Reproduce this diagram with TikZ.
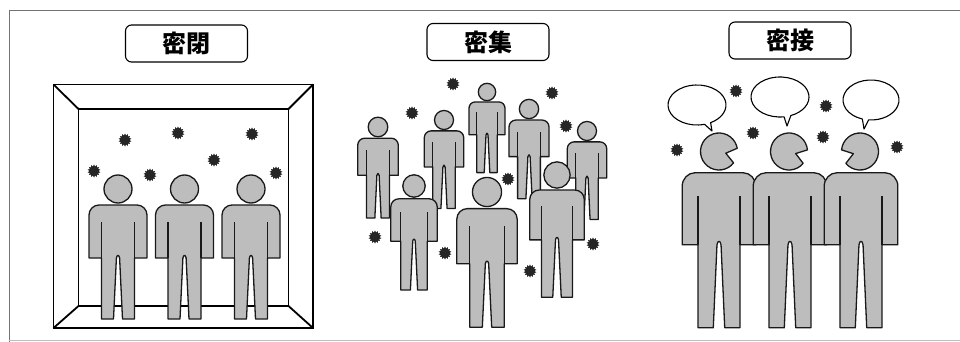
\documentclass[tikz,border=0pt]{standalone}
\usepackage{fontspec}
\newfontfamily\jpfont{Noto Sans CJK JP}
\usetikzlibrary{shapes.geometric,calc}
% torso, arms and legs of a standing figure; origin at the head centre
\newcommand\figurebodydraw{%
  \path[figfill] (-16.5,130) -- (-16.5,69) -- (-29,69) -- (-29,26)
    .. controls (-29,20.5) and (-24.5,16) .. (-19,16) -- (19,16)
    .. controls (24.5,16) and (29,20.5) .. (29,26) -- (29,69) -- (16.5,69)
    -- (16.5,130) -- (4.5,130) -- (1.6,69) .. controls (1,65.5) and (-1,65.5) .. (-1.6,69)
    -- (-4.5,130) -- cycle;
  \draw[figline] (-16.5,33) -- (-16.5,69) (16.5,33) -- (16.5,69);%
}
\begin{document}
\begin{tikzpicture}[x=1pt,y=-1pt,
  figfill/.style={fill=black!26, draw=black!90, line width=1.3pt, line join=round},
  figline/.style={draw=black!90, line width=1.3pt},
  virus/.style={star, star points=14, star point ratio=1.4, minimum size=13pt, inner sep=0pt, fill=black!85},
  titlebox/.style={draw, line width=1.1pt, rounded corners=6pt, minimum width=122pt,
    minimum height=37pt, inner sep=0pt, font=\jpfont\bfseries\fontsize{24}{24}\selectfont},
  roomline/.style={line width=1.8pt, line join=miter},
  bubble/.style={fill=white, draw=black, line width=1.1pt, line join=round},
  framecol/.style={draw=black!55, line width=1pt},
  figbody/.pic={\figurebodydraw},
  % complete figure with a round head
  figperson/.pic={
    \figurebodydraw
    \path[figfill] (0,0) circle[radius=14];
  }
]
\useasboundingbox (0,0) rectangle (960,342);

% outer frame
\draw[framecol] (960,11) -- (9,11) -- (9,342);
\draw[draw=black!25, line width=0.8pt] (9,340.5) -- (960,340.5);

% titles
\node[titlebox] (t1) at (186.5,43.5) {密閉};
\node[titlebox] (t2) at (488,42) {密集};
\node[titlebox] (t3) at (790,40.5) {密接};

% ---------- closed room ----------
\coordinate (o1) at (53.5,84.5);
\coordinate (o2) at (313,84.5);
\coordinate (o3) at (313,328);
\coordinate (o4) at (53.5,328);
\coordinate (i1) at (78.5,109);
\coordinate (i2) at (288.5,109);
\coordinate (i3) at (288.5,306);
\coordinate (i4) at (78.5,306);
\draw[roomline] (o1) -- (o2) -- (o3) -- (o4) -- cycle;
\draw[roomline] (i1) -- (i2) -- (i3) -- (i4) -- cycle;
\draw[roomline] (o1) -- (i1) (o2) -- (i2) (o3) -- (i3) (o4) -- (i4);

\node[virus] (r1) at (125,140) {};
\node[virus] (r2) at (178,133) {};
\node[virus] (r3) at (252,134) {};
\node[virus] (r4) at (214,160) {};
\node[virus] (r5) at (94,171) {};
\node[virus] (r6) at (150,175) {};
\node[virus] (r7) at (276,173) {};

\pic at (118,189) {figperson};
\pic at (184.5,189) {figperson};
\pic at (251,189) {figperson};

% ---------- crowd ----------
\node[virus] (c1) at (453,84) {};
\node[virus] (c2) at (412,113) {};
\node[virus] (c3) at (552,93) {};
\node[virus] (c4) at (566,126) {};
\node[virus] (c5) at (508,179) {};
\node[virus] (c6) at (375,237) {};
\node[virus] (c7) at (445,253) {};
\node[virus] (c8) at (530,271) {};
\node[virus] (c9) at (593,244) {};

\pic[scale=0.62] at (487,92) {figperson};
\pic[scale=0.69] at (529,109) {figperson};
\pic[scale=0.70] at (378,127) {figperson};
\pic[scale=0.68] at (444,120) {figperson};
\pic[scale=0.68] at (587,131) {figperson};
\pic[scale=0.80] at (414,186) {figperson};
\pic[scale=0.94] at (557,175) {figperson};
\pic[scale=1.04] at (487,192) {figperson};

% ---------- close contact ----------
\coordinate (b1) at (697,105);
\coordinate (b2) at (780,97);
\coordinate (b3) at (871,100);
\coordinate (k1) at (712,131);
\coordinate (k2) at (787,126);
\coordinate (k3) at (864,129);
\path[bubble] ($(b1)+(75:29 and 20)$) arc[start angle=75, end angle=422, x radius=29, y radius=20] -- (k1) -- cycle;
\path[bubble] ($(b2)+(82:29 and 20)$) arc[start angle=82, end angle=428, x radius=29, y radius=20] -- (k2) -- cycle;
\path[bubble] ($(b3)+(108:28 and 20)$) arc[start angle=108, end angle=455, x radius=28, y radius=20] -- (k3) -- cycle;

\node[virus] (s1) at (736,91) {};
\node[virus] (s2) at (753,133) {};
\node[virus] (s3) at (677,150) {};
\node[virus] (s4) at (826,106) {};
\node[virus] (s5) at (823,137) {};
\node[virus] (s6) at (897,147) {};

\pic[xscale=1.27, yscale=1.36] at (719,151) {figbody};
\pic[xscale=1.27, yscale=1.36] at (790,151) {figbody};
\pic[xscale=1.27, yscale=1.36] at (861,151) {figbody};

\coordinate (h1) at (719,151.5);
\coordinate (h2) at (789,151.5);
\coordinate (h3) at (860,151.5);
\path[figfill] ($(h1)+(38:18.5)$) arc[start angle=38, end angle=350, radius=18.5] -- ($(h1)+(14:7)$) -- cycle;
\path[figfill] ($(h2)+(40:18.5)$) arc[start angle=40, end angle=355, radius=18.5] -- ($(h2)+(17:7)$) -- cycle;
\path[figfill] ($(h3)+(185:18.5)$) arc[start angle=185, end angle=500, radius=18.5] -- ($(h3)+(162:7)$) -- cycle;
\end{tikzpicture}
\end{document}
